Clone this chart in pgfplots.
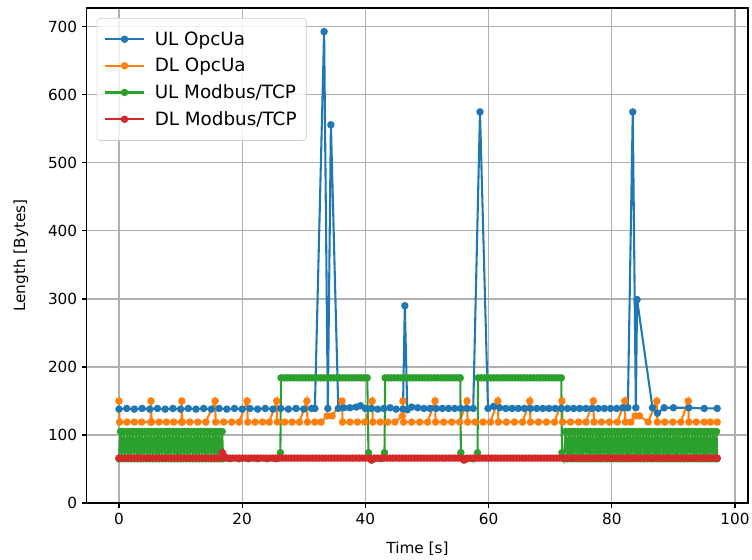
\documentclass[border=0pt]{standalone}
\usepackage{fontspec}
\setmainfont{DejaVu Sans}
\usepackage{pgfplots}
\pgfplotsset{compat=1.18}

\definecolor{tabblue}{HTML}{1F77B4}
\definecolor{taborange}{HTML}{FF7F0E}
\definecolor{tabgreen}{HTML}{2CA02C}
\definecolor{tabred}{HTML}{D62728}

\begin{document}
\begin{tikzpicture}
\begin{axis}[
    name=ax,
    scale only axis,
    width=476pt,
    height=356.4pt,
    xmin=-5.2, xmax=102.1,
    ymin=0, ymax=727.7,
    xtick={0,20,40,60,80,100},
    ytick={0,100,200,300,400,500,600,700},
    xtick pos=bottom, ytick pos=left,
    tick align=outside,
    major tick length=3.5pt,
    every tick/.style={black, line width=0.8pt},
    axis line style={line width=0.8pt},
    grid=major,
    grid style={color=black!31, line width=0.8pt},
    tick label style={font=\fontsize{11}{13}\selectfont},
    /pgf/number format/assume math mode=true,
    label style={font=\fontsize{11}{13}\selectfont},
    xlabel={Time [s]},
    ylabel={Length [Bytes]},
    xlabel style={at={(axis description cs:0.5,-0.093)}, anchor=center},
    ylabel style={at={(axis description cs:-0.0998,0.5)}, anchor=center},
    every axis plot/.append style={line width=1.5pt, mark=*, mark size=1.9pt},
    legend style={at={(axis description cs:0.015,0.98)}, anchor=north west,
        draw=black!20, rounded corners=2pt, fill=white, fill opacity=0.8,
        text opacity=1, font=\fontsize{13.2}{16}\selectfont,
        inner xsep=5pt, inner ysep=7.5pt, row sep=3.8pt,
        /tikz/every odd column/.append style={column sep=5pt}},
    legend cell align=left,
    legend image code/.code={
        \draw[mark repeat=2,mark phase=2,#1] plot coordinates {(0pt,0pt)(14pt,0pt)(28pt,0pt)};
    },
    clip=true,
]
% UL OpcUa
\addplot[color=tabblue, mark options={fill=tabblue, draw=tabblue}] coordinates {
(0,138)(1.25,139)(2.5,138)(3.75,139)(5,138)(6.25,139)(7.5,138)(8.75,139)(10,138)(11.25,139)
(12.5,138)(13.75,139)(15,138)(16.25,139)(17.5,138)(18.75,139)(20,138)(21.25,139)(22.5,138)(23.75,139)
(25,138)(26.25,139)(27.5,138)(28.75,139)(30,138)(31.25,139)(31.8,139)(33.3,693)(33.9,139)(34.4,556)
(35.6,139)(36.5,140)(37.5,140)(38.5,141)(39.2,143)(40,139)(41,139)(42,138)(43,139)(44,140)
(45,138)(46.1,138)(46.4,290)(46.8,137)(47.5,141)(48.5,140)(49.5,139)(50.5,139)(51.5,139)(52.5,139)
(53.5,139)(54.5,139)(55.5,139)(56.5,139)(57.5,139)(58.6,575)(59.9,139)(60.8,142)(61.8,140)(62.8,139)
(63.8,139)(64.8,139)(65.8,139)(66.8,139)(67.8,139)(68.8,139)(69.8,139)(70.8,139)(71.8,139)(72.8,139)
(73.8,139)(74.8,139)(75.8,139)(76.8,139)(77.8,139)(78.8,139)(79.8,139)(80.8,139)(81.8,140)(82.6,140)
(83.4,575)(83.9,140)(84.1,299)(86.6,140)(87.4,132)(88.5,140)(90,140)(92.5,140)(95,139)(97.1,139)
};
\addlegendentry{UL OpcUa}
% DL OpcUa
\addplot[color=taborange, mark options={fill=taborange, draw=taborange}] coordinates {
(0,150)(0.1,119)(1.3,119)(2.5,119)(3.7,119)(5.15,119)(5.2,150)(5.3,119)(6.5,119)(7.7,119)
(8.9,119)(10.15,119)(10.2,150)(10.3,119)(11.5,119)(12.8,119)(14.1,119)(15.6,150)(15.7,119)(17,119)
(18.3,119)(19.5,119)(20.8,150)(20.9,119)(22.1,119)(23.3,119)(24.4,119)(25.6,150)(25.7,119)(26.9,119)
(28.1,119)(29.3,119)(30.5,150)(30.6,119)(31.8,119)(32.8,119)(33.8,128)(34.6,128)(36.2,150)(36.3,119)
(37.5,119)(38.7,119)(39.9,119)(41.1,150)(41.2,119)(42.4,119)(43.6,119)(44.8,119)(46,128)(46.1,150)
(46.2,119)(47.5,119)(48.8,119)(50.1,119)(51.3,150)(51.4,119)(52.7,119)(54,119)(55.3,119)(56.5,150)
(56.6,119)(57.8,119)(59.1,119)(60.3,119)(61.5,150)(61.6,119)(62.9,119)(64.2,119)(65.5,119)(66.7,150)
(66.8,119)(68.1,119)(69.4,119)(70.7,119)(71.9,150)(72,119)(73.3,119)(74.6,119)(75.8,119)(77,150)
(77.1,119)(78.3,119)(79.6,119)(80.9,119)(82.1,150)(82.2,119)(83.1,119)(83.8,128)(84.5,128)(85.9,119)
(87.3,150)(87.4,119)(88.6,119)(89.9,119)(91.2,119)(92.4,150)(92.5,119)(93.7,119)(95,119)(96,119)
(97.1,119)
};
\addlegendentry{DL OpcUa}
% UL Modbus/TCP
\addplot[color=tabgreen, mark options={fill=tabgreen, draw=tabgreen}] coordinates {
(0,65)(0.25,105)(0.5,65)(0.75,105)(1,65)(1.25,105)(1.5,65)(1.75,105)(2,65)(2.25,105)
(2.5,65)(2.75,105)(3,65)(3.25,105)(3.5,65)(3.75,105)(4,65)(4.25,105)(4.5,65)(4.75,105)
(5,65)(5.25,105)(5.5,65)(5.75,105)(6,65)(6.25,105)(6.5,65)(6.75,105)(7,65)(7.25,105)
(7.5,65)(7.75,105)(8,65)(8.25,105)(8.5,65)(8.75,105)(9,65)(9.25,105)(9.5,65)(9.75,105)
(10,65)(10.25,105)(10.5,65)(10.75,105)(11,65)(11.25,105)(11.5,65)(11.75,105)(12,65)(12.25,105)
(12.5,65)(12.75,105)(13,65)(13.25,105)(13.5,65)(13.75,105)(14,65)(14.25,105)(14.5,65)(14.75,105)
(15,65)(15.25,105)(15.5,65)(15.75,105)(16,65)(16.25,105)(16.5,65)(16.75,105)(16.9,65)
(18,65)(19.5,65)(21,65)(22.5,65)(24,65)(25.5,65)(26.2,74)
(26.3,184)(26.8,184)(27.3,184)(27.8,184)(28.3,184)(28.8,184)(29.3,184)(29.8,184)(30.3,184)(30.8,184)
(31.3,184)(31.8,184)(32.3,184)(32.8,184)(33.3,184)(33.8,184)(34.3,184)(34.8,184)(35.3,184)(35.8,184)
(36.3,184)(36.8,184)(37.3,184)(37.8,184)(38.3,184)(38.8,184)(39.3,184)(39.8,184)(40.3,184)
(40.5,74)(41.5,65)(42.5,65)(43.1,74)
(43.2,184)(43.7,184)(44.2,184)(44.7,184)(45.2,184)(45.7,184)(46.2,184)(46.7,184)(47.2,184)(47.7,184)
(48.2,184)(48.7,184)(49.2,184)(49.7,184)(50.2,184)(50.7,184)(51.2,184)(51.7,184)(52.2,184)(52.7,184)
(53.2,184)(53.7,184)(54.2,184)(54.7,184)(55.2,184)(55.4,184)
(55.5,74)(56.5,65)(57.5,65)(58.2,74)
(58.3,184)(58.8,184)(59.3,184)(59.8,184)(60.3,184)(60.8,184)(61.3,184)(61.8,184)(62.3,184)(62.8,184)
(63.3,184)(63.8,184)(64.3,184)(64.8,184)(65.3,184)(65.8,184)(66.3,184)(66.8,184)(67.3,184)(67.8,184)
(68.3,184)(68.8,184)(69.3,184)(69.8,184)(70.3,184)(70.8,184)(71.3,184)(71.8,184)
(71.9,74)(72.2,65)
(72.5,105)(72.75,65)(73,105)(73.25,65)(73.5,105)(73.75,65)(74,105)(74.25,65)(74.5,105)(74.75,65)
(75,105)(75.25,65)(75.5,105)(75.75,65)(76,105)(76.25,65)(76.5,105)(76.75,65)(77,105)(77.25,65)
(77.5,105)(77.75,65)(78,105)(78.25,65)(78.5,105)(78.75,65)(79,105)(79.25,65)(79.5,105)(79.75,65)
(80,105)(80.25,65)(80.5,105)(80.75,65)(81,105)(81.25,65)(81.5,105)(81.75,65)(82,105)(82.25,65)
(82.5,105)(82.75,65)(83,105)(83.25,65)(83.5,105)(83.75,65)(84,105)(84.25,65)(84.5,105)(84.75,65)
(85,105)(85.25,65)(85.5,105)(85.75,65)(86,105)(86.25,65)(86.5,105)(86.75,65)(87,105)(87.25,65)
(87.5,105)(87.75,65)(88,105)(88.25,65)(88.5,105)(88.75,65)(89,105)(89.25,65)(89.5,105)(89.75,65)
(90,105)(90.25,65)(90.5,105)(90.75,65)(91,105)(91.25,65)(91.5,105)(91.75,65)(92,105)(92.25,65)
(92.5,105)(92.75,65)(93,105)(93.25,65)(93.5,105)(93.75,65)(94,105)(94.25,65)(94.5,105)(94.75,65)
(95,105)(95.25,65)(95.5,105)(95.75,65)(96,105)(96.25,65)(96.5,105)(96.75,65)(97,105)(97.1,65)
};
\addlegendentry{UL Modbus/TCP}
% DL Modbus/TCP
\addplot[color=tabred, mark options={fill=tabred, draw=tabred}] coordinates {
(0,66)(0.5,66)(1,66)(1.5,66)(2,66)(2.5,66)(3,66)(3.5,66)(4,66)(4.5,66)
(5,66)(5.5,66)(6,66)(6.5,66)(7,66)(7.5,66)(8,66)(8.5,66)(9,66)(9.5,66)
(10,66)(10.5,66)(11,66)(11.5,66)(12,66)(12.5,66)(13,66)(13.5,66)(14,66)(14.5,66)
(15,66)(15.5,66)(16,66)(16.5,66)(16.8,74)(17.2,68)(17.5,66)(18,66)(18.5,66)(19,66)
(19.5,66)(20,66)(20.5,66)(21,66)(21.5,66)(22,66)(22.5,66)(23,66)(23.5,66)(24,66)
(24.5,66)(25,66)(25.5,66)(26,66)(26.5,66)(27,66)(27.5,66)(28,66)(28.5,66)(29,66)
(29.5,66)(30,66)(30.5,66)(31,66)(31.5,66)(32,66)(32.5,66)(33,66)(33.5,66)(34,66)
(34.5,66)(35,66)(35.5,66)(36,66)(36.5,66)(37,66)(37.5,66)(38,66)(38.5,66)(39,66)
(39.5,66)(40,66)(40.5,66)(41,63)(41.5,66)(42,66)(42.5,66)(43,66)(43.5,66)(44,66)
(44.5,66)(45,66)(45.5,66)(46,66)(46.5,66)(47,66)(47.5,66)(48,66)(48.5,66)(49,66)
(49.5,66)(50,66)(50.5,66)(51,66)(51.5,66)(52,66)(52.5,66)(53,66)(53.5,66)(54,66)
(54.5,66)(55,66)(55.5,66)(56,63)(56.5,66)(57,66)(57.5,66)(58,66)(58.5,66)(59,66)
(59.5,66)(60,66)(60.5,66)(61,66)(61.5,66)(62,66)(62.5,66)(63,66)(63.5,66)(64,66)
(64.5,66)(65,66)(65.5,66)(66,66)(66.5,66)(67,66)(67.5,66)(68,66)(68.5,66)(69,66)
(69.5,66)(70,66)(70.5,66)(71,66)(71.5,66)(72,66)(72.5,66)(73,66)(73.5,66)(74,66)
(74.5,66)(75,66)(75.5,66)(76,66)(76.5,66)(77,66)(77.5,66)(78,66)(78.5,66)(79,66)
(79.5,66)(80,66)(80.5,66)(81,66)(81.5,66)(82,66)(82.5,66)(83,66)(83.5,66)(84,66)
(84.5,66)(85,66)(85.5,66)(86,66)(86.5,66)(87,66)(87.5,66)(88,66)(88.5,66)(89,66)
(89.5,66)(90,66)(90.5,66)(91,66)(91.5,66)(92,66)(92.5,66)(93,66)(93.5,66)(94,66)
(94.5,66)(95,66)(95.5,66)(96,66)(96.5,66)(97,66)(97.1,66)
};
\addlegendentry{DL Modbus/TCP}
\end{axis}
\pgfresetboundingbox
\path ([xshift=-62.6pt,yshift=-41pt]ax.south west) rectangle ([xshift=2.9pt,yshift=5.8pt]ax.north east);
\end{tikzpicture}
\end{document}
